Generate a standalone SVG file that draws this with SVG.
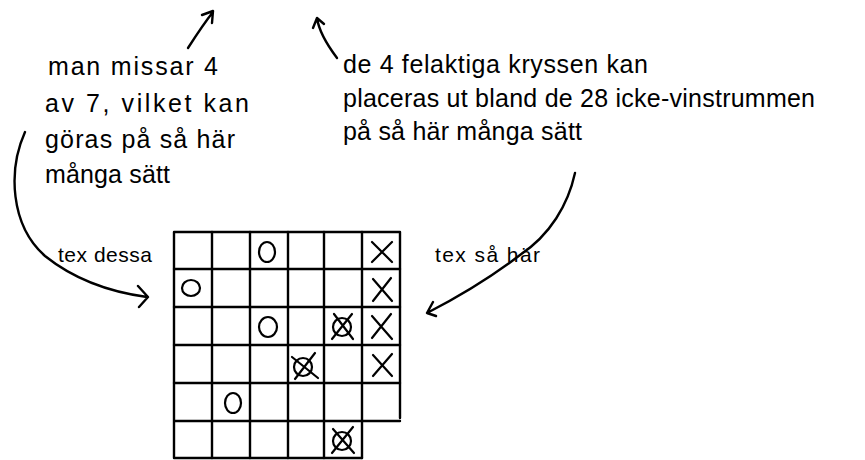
<svg xmlns="http://www.w3.org/2000/svg" width="865" height="460" viewBox="0 0 865 460">
  <style>
    .t { font-family: "Liberation Sans", "DejaVu Sans", sans-serif; font-size: 25px; fill: #000; }
    .s { font-size: 21px; }
    .ln { stroke: #000; stroke-width: 2.4; fill: none; stroke-linecap: round; stroke-linejoin: round; }
    .mk { stroke: #000; stroke-width: 2.2; fill: none; stroke-linecap: round; }
  </style>
  <rect width="865" height="460" fill="#fff"/>

  <g id="note-left">
    <text class="t" x="48" y="75" textLength="170" lengthAdjust="spacing">man missar 4</text>
    <text class="t" x="45" y="112" textLength="204" lengthAdjust="spacing">av 7, vilket kan</text>
    <text class="t" x="45" y="148" textLength="190" lengthAdjust="spacing">göras på så här</text>
    <text class="t" x="45" y="183" textLength="125" lengthAdjust="spacing">många sätt</text>
  </g>

  <g id="note-right">
    <text class="t" x="343" y="73" textLength="305" lengthAdjust="spacing">de 4 felaktiga kryssen kan</text>
    <text class="t" x="343" y="107" textLength="472" lengthAdjust="spacing">placeras ut bland de 28 icke-vinstrummen</text>
    <text class="t" x="343" y="140" textLength="239" lengthAdjust="spacing">på så här många sätt</text>
  </g>

  <g id="label-tex-dessa">
    <text class="t s" x="58" y="262" textLength="94" lengthAdjust="spacing">tex dessa</text>
  </g>

  <g id="label-tex-sa-har">
    <text class="t s" x="435" y="262" textLength="105" lengthAdjust="spacing">tex så här</text>
  </g>

  <g id="grid">
    <path class="ln" d="M174,232 L400,232 L400,418 M174,421 L400,421 M174,232 L174,458 L362,458"/>
    <path class="ln" d="M212,232 L212,458 M250,232 L250,458 M288,232 L288,458 M324,232 L324,458 M362,232 L362,458"/>
    <path class="ln" d="M174,269 L400,269 M174,307 L400,307 M174,345 L400,345 M174,383 L400,383"/>
    <ellipse class="mk" cx="267" cy="252" rx="8" ry="10"/>
    <ellipse class="mk" cx="191" cy="288" rx="9" ry="8"/>
    <ellipse class="mk" cx="268" cy="327" rx="9" ry="10"/>
    <ellipse class="mk" cx="233" cy="403" rx="8" ry="10"/>
    <g>
      <circle class="mk" cx="342" cy="327" r="9"/>
      <path class="mk" d="M332,339 L352,314 M334,314 L353,339"/>
    </g>
    <g>
      <circle class="mk" cx="303" cy="367" r="9"/>
      <path class="mk" d="M295,379 L315,353 M292,357 L318,378"/>
    </g>
    <g>
      <circle class="mk" cx="342" cy="441" r="9"/>
      <path class="mk" d="M332,453 L353,427 M333,429 L354,453"/>
    </g>
    <path class="mk" d="M372,242 L392,262 M392,242 L372,262"/>
    <path class="mk" d="M373,279 L392,301 M391,278 L373,301"/>
    <path class="mk" d="M372,316 L392,339 M391,314 L372,338"/>
    <path class="mk" d="M373,355 L392,376 M392,354 L373,376"/>
  </g>

  <g id="connectors">
    <path class="ln" d="M188,48 C197,34 205,22 213,12 M202,15 L213,11 L212,23"/>
    <path class="ln" d="M337,58 C328,46 319,32 317,18 M313,28 L317,18 L324,24"/>
    <path class="ln" d="M25,132 C8,170 10,225 45,256 C75,280 110,292 147,297 M138,286 L148,297 L139,307"/>
    <path class="ln" d="M575,173 C568,205 550,235 520,255 C490,278 460,296 427,313 M433,302 L427,313 L436,316"/>
  </g>
</svg>
